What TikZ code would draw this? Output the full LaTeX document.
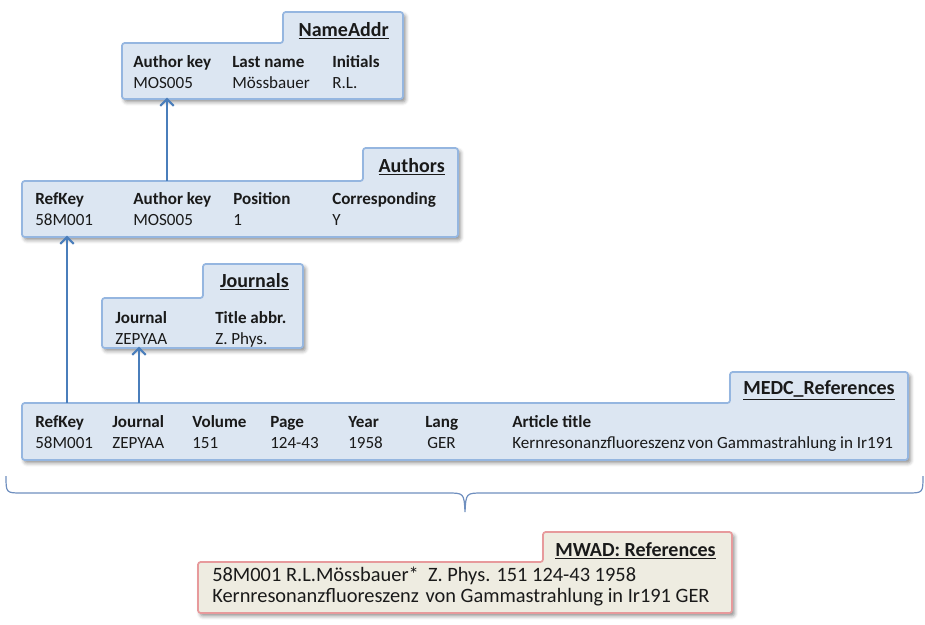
\documentclass[tikz,border=0pt]{standalone}
\usepackage{fontspec}
\setmainfont{Carlito}
\usetikzlibrary{arrows.meta,shadows.blur}
\definecolor{boxfill}{HTML}{DCE6F2}
\definecolor{boxline}{HTML}{95B6E0}
\definecolor{arrowc}{HTML}{4A7EBB}
\definecolor{bracec}{HTML}{6F8FBF}
\definecolor{mwfill}{HTML}{EEECE1}
\definecolor{mwline}{HTML}{E79A9C}
\definecolor{txt}{HTML}{1A1A1A}
\tikzset{
  tbl/.style={fill=boxfill, draw=boxline, line width=1.3pt, rounded corners=2pt,
    blur shadow={shadow xshift=1.8pt, shadow yshift=-2.2pt, shadow blur radius=2.8pt, shadow opacity=45}},
  mwad/.style={fill=mwfill, draw=mwline, line width=1.3pt, rounded corners=2pt,
    blur shadow={shadow xshift=1.8pt, shadow yshift=-2.2pt, shadow blur radius=2.8pt, shadow opacity=45}},
  cell/.style={anchor=west, inner sep=0pt, text height=8pt, text depth=2pt, text=txt,
    font=\fontsize{12.8}{15}\selectfont},
  hd/.style={cell, font=\fontsize{12.8}{15}\selectfont\bfseries},
  ttl/.style={anchor=east, inner sep=0pt, text height=10pt, text depth=3pt, text=txt,
    font=\fontsize{15}{18}\selectfont\bfseries},
  mwtxt/.style={anchor=west, inner sep=0pt, text height=10pt, text depth=3pt, text=txt,
    font=\fontsize{15.3}{18}\selectfont},
  arr/.style={draw=arrowc, line width=1.6pt, -{Straight Barb[length=5pt,width=10pt,line width=1.6pt]}},
  bracel/.style={draw=bracec, line width=0.9pt}
}
% #1 style, #2 L, #3 body top, #4 R, #5 B, #6 tab left, #7 tab top
\newcommand\tabbox[7]{\path[#1] (#2,#5) -- (#2,#3) -- (#6,#3) -- (#6,#7) -- (#4,#7) -- (#4,#5) -- cycle;}
% name, x, y, header, data
\newcommand\colpair[5]{\node[hd] (#1-h) at (#2,#3) {#4};\node[cell] (#1-d) at (#2,#3+21) {#5};}
\begin{document}
\begin{tikzpicture}[x=0.75pt,y=-0.75pt]
\useasboundingbox (0,0) rectangle (925,625);

% NameAddr
\tabbox{tbl}{122}{43}{403}{99}{283}{12}
\node[ttl] (na-t) at (389,32) {\underline{NameAddr}};
\colpair{na1}{133}{63}{Author key}{MOS005}
\colpair{na2}{232}{63}{Last name}{Mössbauer}
\colpair{na3}{332}{63}{Initials}{R.L.}
\coordinate (na-b) at (167,99);

% Authors
\tabbox{tbl}{22}{181}{458}{237}{363}{148}
\node[ttl] (au-t) at (445,168) {\underline{Authors}};
\colpair{au1}{35}{200}{RefKey}{58M001}
\colpair{au2}{133}{200}{Author key}{MOS005}
\colpair{au3}{233}{200}{Position}{1}
\colpair{au4}{332}{200}{Corresponding}{Y}
\coordinate (au-top) at (167,181);
\coordinate (au-b) at (67,237);

% Journals
\tabbox{tbl}{102}{298}{303}{348}{203}{264}
\node[ttl] (jo-t) at (289,283) {\underline{Journals}};
\colpair{jo1}{115}{319}{Journal}{ZEPYAA}
\colpair{jo2}{215}{319}{Title abbr.}{Z. Phys.}
\coordinate (jo-b) at (139,348);

% MEDC_References
\tabbox{tbl}{22}{403}{908}{460}{730}{372}
\node[ttl] (me-t) at (895,390) {\underline{MEDC\_References}};
\colpair{me1}{35}{423}{RefKey}{58M001}
\colpair{me2}{112}{423}{Journal}{ZEPYAA}
\colpair{me3}{192}{423}{Volume}{151}
\colpair{me4}{270}{423}{Page}{124-43}
\colpair{me5}{348}{423}{Year}{1958}
\node[hd] (me6-h) at (425,423) {Lang};
\node[cell] (me6-d) at (427,444) {GER};
\colpair{me7}{512}{423}{Article title}{Kernresonanzfluoreszenz\hspace{-1pt} von Gammastrahlung in Ir191}
\coordinate (me-a) at (67,403);
\coordinate (me-b) at (139,403);

% arrows
\draw[arr, shorten >=-1pt] (au-top) -- (na-b);
\draw[arr, shorten >=-1pt] (me-a) -- (au-b);
\draw[arr, shorten >=-1pt] (me-b) -- (jo-b);

% brace
\draw[bracel] (6,476) .. controls (6,493) .. (22,493) -- (447,493)
  .. controls (464,493) .. (465,512) .. controls (466,493) .. (483,493)
  -- (907,493) .. controls (923,493) .. (923,476);

% MWAD: References
\tabbox{mwad}{198}{562}{732}{613}{543}{532}
\node[ttl] (mw-t) at (716,552) {\underline{MWAD: References}};
\node[mwtxt] (mw-1) at (212,577) {58M001 R.L.Mössbauer*\ \ Z. Phys. 151 124-43 1958};
\node[mwtxt] (mw-2) at (212,598) {Kernresonanzfluoreszenz\hspace{1.5pt} von Gammastrahlung in Ir191 GER};
\end{tikzpicture}
\end{document}
